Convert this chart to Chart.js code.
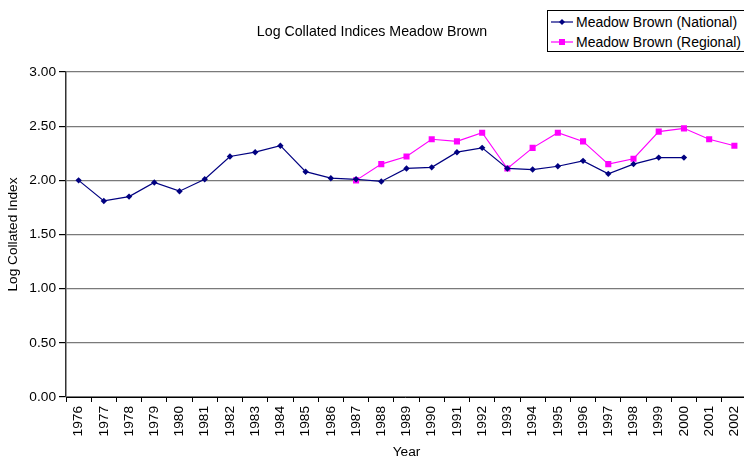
<!DOCTYPE html>
<html>
<head>
<meta charset="utf-8">
<title>Log Collated Indices Meadow Brown</title>
<script src="https://cdn.jsdelivr.net/npm/chart.js@4/dist/chart.umd.min.js"></script>
<style>
  html, body { margin: 0; padding: 0; background: #fff; overflow: hidden; }
  #wrap { position: relative; width: 744px; height: 460px; overflow: hidden; }
  #legend {
    position: absolute; left: 547px; top: 10px; width: 205px; height: 42px;
    border: 1px solid #000; background: #fff; box-sizing: border-box;
    font-family: "Liberation Sans", Arial, sans-serif; font-size: 14px; color: #000;
  }
  .row { position: absolute; left: 0; height: 20px; line-height: 20px; white-space: nowrap; }
  .row svg { position: absolute; left: 2px; top: 4px; }
  .row span { position: absolute; left: 28px; top: 0; }
</style>
</head>
<body>
<div id="wrap">
  <canvas id="chart" width="744" height="460"></canvas>
  <div id="legend">
    <div class="row" style="top:1px">
      <svg width="24" height="12" viewBox="0 0 24 12">
        <line x1="1" y1="6" x2="23" y2="6" stroke="#000080" stroke-width="1.2"/>
        <polygon points="12,3 15,6 12,9 9,6" fill="#000080"/>
      </svg>
      <span>Meadow Brown (National)</span>
    </div>
    <div class="row" style="top:21px">
      <svg width="24" height="12" viewBox="0 0 24 12">
        <line x1="1" y1="6" x2="23" y2="6" stroke="#FF00FF" stroke-width="1.2"/>
        <rect x="9" y="3" width="6" height="6" fill="#FF00FF"/>
      </svg>
      <span>Meadow Brown (Regional)</span>
    </div>
  </div>
</div>
<script>
// Survey years
const years = ['1976','1977','1978','1979','1980','1981','1982','1983','1984','1985',
               '1986','1987','1988','1989','1990','1991','1992','1993','1994','1995',
               '1996','1997','1998','1999','2000','2001','2002'];

// Log collated index, national series (1976-2000)
const nationalIndex = [2.00, 1.81, 1.85, 1.98, 1.90, 2.01, 2.22, 2.26, 2.32, 2.08,
                       2.02, 2.01, 1.99, 2.11, 2.12, 2.26, 2.30, 2.11, 2.10, 2.13,
                       2.18, 2.06, 2.15, 2.21, 2.21, null, null];

// Log collated index, regional series (1987-2002)
const regionalIndex = [null, null, null, null, null, null, null, null, null, null,
                       null, 2.00, 2.15, 2.22, 2.38, 2.36, 2.44, 2.11, 2.30, 2.44,
                       2.36, 2.15, 2.20, 2.45, 2.48, 2.38, 2.32];

// Value axis ticks
const yTicks = [0, 0.5, 1, 1.5, 2, 2.5, 3];

Chart.defaults.font.family = '"Liberation Sans", Arial, sans-serif';
Chart.defaults.font.size = 13.7;
Chart.defaults.color = '#000';

// Plot area runs slightly past the right edge of the canvas
const PLOT_RIGHT_OVERHANG = 3;
const fullWidthArea = {
  id: 'fullWidthArea',
  afterLayout(chart) {
    const area = chart.chartArea;
    const x = chart.scales.x;
    const target = chart.width + PLOT_RIGHT_OVERHANG;
    if (area.right !== target) {
      area.right = target;
      area.width = area.right - area.left;
      x.right = target;
      x.width = x.right - x.left;
      x.configure();
    }
  }
};

new Chart(document.getElementById('chart'), {
  type: 'line',
  data: {
    labels: years,
    datasets: [
      {
        label: 'Meadow Brown (National)',
        data: nationalIndex,
        borderColor: '#000080',
        backgroundColor: '#000080',
        borderWidth: 1.2,
        pointStyle: 'rectRot',
        pointRadius: 3.2,
        pointBorderWidth: 0,
        tension: 0,
        spanGaps: false
      },
      {
        label: 'Meadow Brown (Regional)',
        data: regionalIndex,
        borderColor: '#FF00FF',
        backgroundColor: '#FF00FF',
        borderWidth: 1.1,
        pointStyle: 'rect',
        pointRadius: 4.3,
        pointBorderWidth: 0,
        tension: 0,
        spanGaps: false
      }
    ]
  },
  options: {
    responsive: false,
    devicePixelRatio: 1,
    animation: false,
    layout: { padding: 0 },
    plugins: {
      legend: { display: false },
      tooltip: { enabled: false },
      title: {
        display: true,
        text: 'Log Collated Indices Meadow Brown',
        font: { size: 14.2, weight: 'normal' },
        color: '#000',
        padding: { top: 23.5, bottom: 31.5 }
      }
    },
    scales: {
      x: {
        type: 'category',
        offset: true,
        border: { display: true, color: '#000', width: 1 },
        grid: {
          offset: true,
          drawOnChartArea: false,
          drawTicks: true,
          tickLength: 5,
          tickColor: '#000'
        },
        ticks: {
          autoSkip: false,
          minRotation: 90,
          maxRotation: 90,
          padding: 4,
          color: '#000'
        },
        title: {
          display: true,
          text: 'Year',
          padding: { top: 0, bottom: 0 }
        },
        afterFit(scale) {
          scale.height = 63;
          scale.paddingLeft = 0;
          scale.paddingRight = 0;
        }
      },
      y: {
        min: 0,
        max: 3,
        border: { display: true, color: '#333', width: 1.5 },
        grid: {
          color: '#7a7a7a',
          lineWidth: 1.2,
          drawTicks: true,
          tickLength: 7,
          tickColor: '#000'
        },
        afterBuildTicks(scale) {
          scale.ticks = yTicks.map(v => ({ value: v }));
        },
        ticks: {
          padding: 3,
          color: '#000',
          callback: v => Number(v).toFixed(2)
        },
        title: {
          display: true,
          text: 'Log Collated Index',
          padding: { top: 5, bottom: 0 }
        },
        afterFit(scale) {
          scale.width = 66;
          scale.paddingTop = 0;
          scale.paddingBottom = 0;
        }
      }
    }
  },
  plugins: [fullWidthArea]
});
</script>
</body>
</html>
